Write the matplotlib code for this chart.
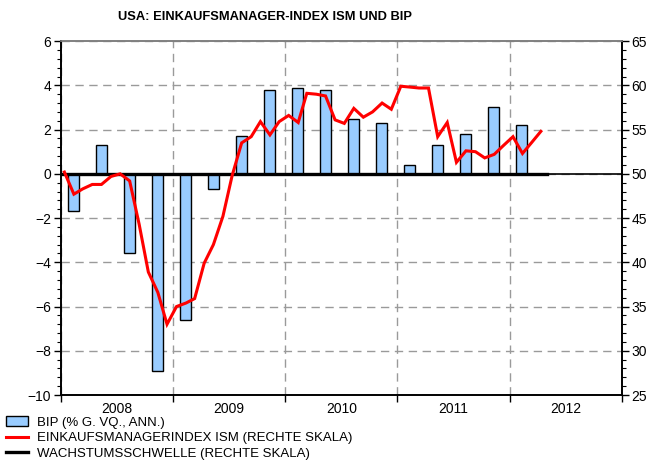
import matplotlib
matplotlib.use('Agg')
import matplotlib.pyplot as plt
import numpy as np
import pandas as pd
from matplotlib.ticker import MultipleLocator, FixedLocator, NullFormatter
from matplotlib.patches import Patch
from matplotlib.lines import Line2D

plt.rcParams['font.family'] = ['Liberation Sans', 'DejaVu Sans']

# ---- data ----
quarters = pd.period_range('2008Q1', '2012Q1', freq='Q')
gdp = [-1.7, 1.3, -3.6, -8.9, -6.6, -0.7, 1.7, 3.8, 3.9, 3.8, 2.5, 2.3,
       0.4, 1.3, 1.8, 3.0, 2.2]

months = pd.period_range('2008-01', '2012-04', freq='M')
ism = [50.2, 47.7, 48.3, 48.8, 48.8, 49.7, 50.0, 49.2, 44.3, 38.9, 36.6, 33.0,
       35.0, 35.4, 35.9, 39.9, 42.0, 45.2, 49.8, 53.5, 54.2, 55.9, 54.4, 55.9,
       56.6, 55.8, 59.1, 59.0, 58.8, 56.1, 55.7, 57.4, 56.4, 57.0, 58.0, 57.3,
       59.9, 59.8, 59.7, 59.7, 54.2, 55.8, 51.3, 52.6, 52.5, 51.8, 52.2, 53.2,
       54.2, 52.3, 53.5, 54.8]

threshold_dates = ['2008-01-01', '2012-05-01']
threshold = [50, 50]

years = [2008, 2009, 2010, 2011, 2012]
year_labels = ['2008', '2009', '2010', '2011', '2012']

title = 'USA: EINKAUFSMANAGER-INDEX ISM UND BIP'
legend_labels = ['BIP (% G. VQ., ANN.)',
                 'EINKAUFSMANAGERINDEX ISM (RECHTE SKALA)',
                 'WACHSTUMSSCHWELLE (RECHTE SKALA)']


def dec_year(ts):
    ts = pd.Timestamp(ts)
    start = pd.Timestamp(year=ts.year, month=1, day=1)
    end = pd.Timestamp(year=ts.year + 1, month=1, day=1)
    return ts.year + (ts - start) / (end - start)


q_x = [dec_year(q.start_time) + 0.11 for q in quarters]
m_x = [dec_year(m.start_time) + 0.03 for m in months]
t_x = [dec_year(d) for d in threshold_dates]

# ---- figure ----
fig = plt.figure(figsize=(6.47, 4.62), dpi=100)
ax = fig.add_axes([0.0943, 0.145, 0.8667, 0.766])
ax2 = ax.twinx()

grid_kw = dict(color='#9a9a9a', lw=1.0, ls=(0, (6, 4)))

ax.set_xlim(years[0], years[-1] + 1)
ax.set_ylim(-10, 6)
ax2.set_ylim(25, 65)

ax.set_axisbelow(True)
ax.bar(q_x, gdp, width=0.098, color='#99CCFF', edgecolor='black', linewidth=1.0, zorder=2)
ax.axhline(0, color='black', lw=1.2, zorder=3)

ax2.plot(m_x, ism, color='#FF0000', lw=2.2, zorder=4, solid_joinstyle='miter')
ax2.plot(t_x, threshold, color='black', lw=2.4, zorder=3)

# x ticks
ax.xaxis.set_major_locator(FixedLocator(list(years) + [years[-1] + 1]))
ax.xaxis.set_major_formatter(NullFormatter())
ax.xaxis.set_minor_locator(FixedLocator([y + 0.5 for y in years]))
ax.set_xticklabels(year_labels, minor=True)
ax.tick_params(axis='x', which='major', direction='out', length=5, width=1, color='black')
ax.tick_params(axis='x', which='minor', length=0, labelsize=10, pad=5)
ax.xaxis.grid(True, which='major', **grid_kw)

# left y
ax.yaxis.set_major_locator(MultipleLocator(2))
ax.yaxis.set_minor_locator(MultipleLocator(0.4))
ax.tick_params(axis='y', which='major', direction='out', length=5, width=1, labelsize=10, pad=2)
ax.tick_params(axis='y', which='minor', direction='out', length=3, width=0.8)
ax.yaxis.grid(True, which='major', **grid_kw)

# right y
ax2.yaxis.set_major_locator(MultipleLocator(5))
ax2.yaxis.set_minor_locator(MultipleLocator(1))
ax2.tick_params(axis='y', which='major', direction='out', length=5, width=1, labelsize=10, pad=2)
ax2.tick_params(axis='y', which='minor', direction='out', length=3, width=0.8)

for a in (ax, ax2):
    a.spines['top'].set_color('#808080')
    a.spines['top'].set_linewidth(1.2)
    a.spines['bottom'].set_linewidth(1.2)
    a.spines['left'].set_linewidth(1.2)
    a.spines['right'].set_linewidth(1.2)

fig.text(0.41, 0.963, title, ha='center', va='center', fontsize=9.3, fontweight='bold')

handles = [Patch(facecolor='#99CCFF', edgecolor='black', linewidth=1.0),
           Line2D([], [], color='#FF0000', lw=2.2),
           Line2D([], [], color='black', lw=2.4)]
fig.legend(handles, legend_labels, loc='upper left', bbox_to_anchor=(0.008, 0.102),
           frameon=False, fontsize=9.5, handlelength=1.6, handleheight=0.8,
           handletextpad=0.7, labelspacing=0.22, borderpad=0.1, borderaxespad=0.0)

fig.savefig('out.png', dpi=100)
